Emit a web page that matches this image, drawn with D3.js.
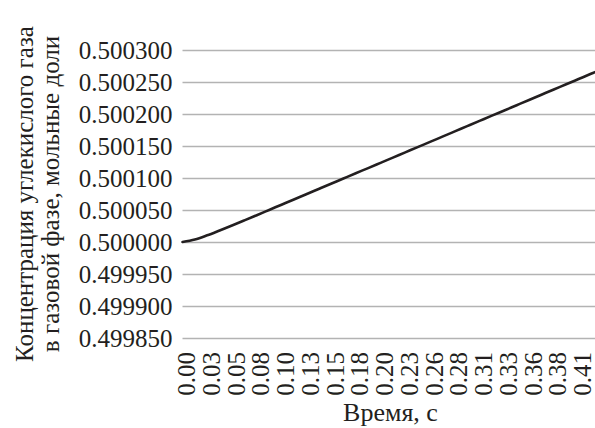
<!DOCTYPE html>
<html>
<head>
<meta charset="utf-8">
<script src="https://cdn.jsdelivr.net/npm/d3@7"></script>
</head>
<body style="margin:0">
<svg id="chart" width="595" height="428" style="font-family: 'Liberation Serif'"></svg>
<script>
// Time points, s
const times = [
  0.0000, 0.0128, 0.0256, 0.0384, 0.0512, 0.0640, 0.0768, 0.0896,
  0.1024, 0.1152, 0.1280, 0.1408, 0.1536, 0.1664, 0.1792, 0.1920,
  0.2048, 0.2176, 0.2304, 0.2432, 0.2560, 0.2688, 0.2816, 0.2944,
  0.3072, 0.3200, 0.3328, 0.3456, 0.3584, 0.3712, 0.3840, 0.3968,
  0.4096, 0.4224, 0.4266
];

// CO2 concentration in the gas phase, mole fraction
const concentration = [
  0.5000000, 0.5000038, 0.5000104, 0.5000180, 0.5000258, 0.5000338, 0.5000419, 0.5000501,
  0.5000583, 0.5000665, 0.5000746, 0.5000828, 0.5000910, 0.5000992, 0.5001074, 0.5001155,
  0.5001237, 0.5001319, 0.5001401, 0.5001483, 0.5001564, 0.5001646, 0.5001728, 0.5001810,
  0.5001892, 0.5001974, 0.5002055, 0.5002137, 0.5002219, 0.5002301, 0.5002383, 0.5002464,
  0.5002546, 0.5002628, 0.5002655
];

// Axis ticks
const yTicks = [0.499850, 0.499900, 0.499950, 0.500000, 0.500050, 0.500100,
                0.500150, 0.500200, 0.500250, 0.500300];
const xTickValues = [0.0000, 0.0256, 0.0512, 0.0768, 0.1024, 0.1280, 0.1536, 0.1792,
                     0.2048, 0.2304, 0.2560, 0.2816, 0.3072, 0.3328, 0.3584, 0.3840, 0.4096];
const xTickLabels = ["0.00", "0.03", "0.05", "0.08", "0.10", "0.13", "0.15", "0.18",
                     "0.20", "0.23", "0.26", "0.28", "0.31", "0.33", "0.36", "0.38", "0.41"];

const yTitleLines = ["Концентрация углекислого газа", "в газовой фазе, мольные доли"];
const xTitle = "Время, с";

const INK = "#231f20";

const svg = d3.select("#chart");
const plot = { left: 182.5, right: 595, top: 50, bottom: 338 };

const x = d3.scaleLinear().domain([0, times[times.length - 1]]).range([plot.left, plot.right]);
const y = d3.scaleLinear().domain([0.499850, 0.500300]).range([plot.bottom, plot.top]);

// Serif text helper
function serif(sel, size) {
  return sel
    .style("font-family", "'Liberation Serif'")
    .style("font-size", size + "px")
    .attr("fill", INK);
}

// Horizontal gridlines
svg.append("g")
  .selectAll("line")
  .data(yTicks)
  .join("line")
  .attr("x1", plot.left)
  .attr("x2", plot.right)
  .attr("y1", d => Math.round(y(d)) + 0.5)
  .attr("y2", d => Math.round(y(d)) + 0.5)
  .attr("stroke", "#b3b3b3")
  .attr("stroke-width", 1.3);

// Value labels on the left
svg.append("g")
  .selectAll("text")
  .data(yTicks)
  .join("text")
  .attr("x", plot.left - 10)
  .attr("y", d => y(d))
  .attr("dy", "0.34em")
  .attr("text-anchor", "end")
  .call(serif, 25)
  .text(d => d.toFixed(6));

// Rotated time labels under the plot
svg.append("g")
  .selectAll("text")
  .data(xTickValues)
  .join("text")
  .attr("transform", d => `translate(${x(d) + 12.5},352) rotate(-90)`)
  .attr("text-anchor", "end")
  .call(serif, 25)
  .text((d, i) => xTickLabels[i]);

// Concentration curve
const line = d3.line()
  .x((d, i) => x(times[i]))
  .y(d => y(d))
  .curve(d3.curveMonotoneX);

svg.append("path")
  .datum(concentration)
  .attr("fill", "none")
  .attr("stroke", INK)
  .attr("stroke-width", 2.6)
  .attr("stroke-linecap", "round")
  .attr("d", line);

// Axis titles
svg.append("g")
  .selectAll("text")
  .data(yTitleLines)
  .join("text")
  .attr("transform", (d, i) => `translate(${33 + i * 26},194) rotate(-90)`)
  .attr("text-anchor", "middle")
  .call(serif, 25)
  .text(d => d);

svg.append("text")
  .attr("x", 390.5)
  .attr("y", 421)
  .attr("text-anchor", "middle")
  .call(serif, 26)
  .text(xTitle);
</script>
</body>
</html>
